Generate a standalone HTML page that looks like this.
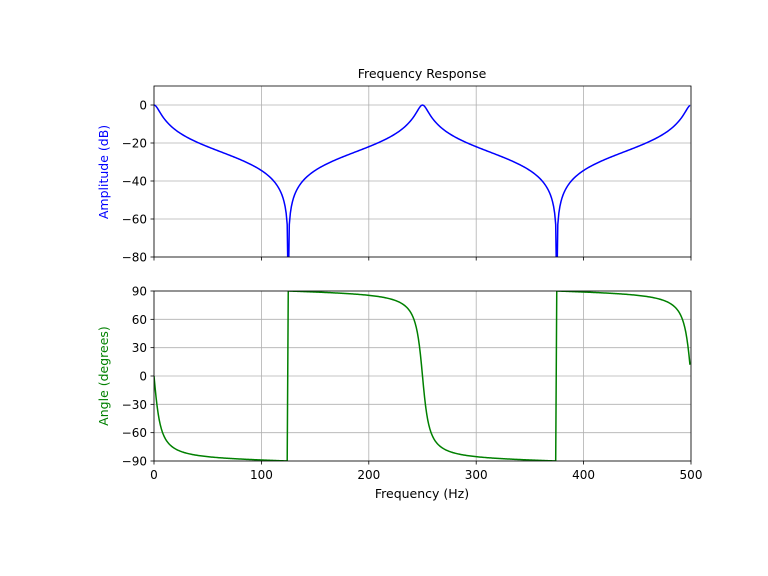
<!DOCTYPE html>
<html><head><meta charset="utf-8"><style>
body{margin:0;background:#fff}
svg{display:block;font-family:"DejaVu Sans","Liberation Sans",sans-serif}
</style></head><body>
<svg id="s" width="768" height="576" xmlns="http://www.w3.org/2000/svg">
<defs>
<clipPath id="c1"><rect x="154" y="86" width="537" height="171"/></clipPath>
<clipPath id="c2"><rect x="154" y="291" width="537" height="170"/></clipPath>
</defs>
<g id="grid" stroke="#b0b0b0" stroke-width="0.8"></g>
<path id="p1" fill="none" stroke="#0000ff" stroke-width="1.5" clip-path="url(#c1)"/>
<path id="p2" fill="none" stroke="#008000" stroke-width="1.5" clip-path="url(#c2)"/>
<rect x="154" y="86" width="537" height="171" fill="none" stroke="#000" stroke-width="0.8"/>
<rect x="154" y="291" width="537" height="170" fill="none" stroke="#000" stroke-width="0.8"/>
<g id="ticks" stroke="#000" stroke-width="0.8"></g>
<g id="lbl" font-size="12" fill="#000"></g>
<text x="422" y="78" font-size="12.5" text-anchor="middle">Frequency Response</text>
<text x="422" y="498" font-size="12.5" text-anchor="middle">Frequency (Hz)</text>
<text transform="translate(108,172) rotate(-90)" font-size="12.5" text-anchor="middle" fill="#0000ff">Amplitude (dB)</text>
<text transform="translate(108,376) rotate(-90)" font-size="12.5" text-anchor="middle" fill="#008000">Angle (degrees)</text>
</svg>
<script>
var X=function(f){return 154+f*537/500};
var Y1=function(d){return 105-d*1.9};
var Y2=function(a){return 376-a*170/180};
var g=0.055,a=1-2*g,d1="",d2="";
for(var i=0;i<512;i++){var f=i*500/512;
 var t=2*Math.PI*f/250,c=Math.cos(t),s=Math.sin(t);
 var nr=g*(1+c),ni=-g*s,dr=1-a*c,di=a*s;
 var den=dr*dr+di*di,hr=(nr*dr+ni*di)/den,hi=(ni*dr-nr*di)/den;
 var m=Math.sqrt(hr*hr+hi*hi),db=20*Math.log10(Math.max(m,1e-9));
 if(db<-100)db=-100;
 var ph=Math.atan2(hi,hr)*180/Math.PI;
 if(Math.abs(f-125)<0.01||Math.abs(f-375)<0.01){ph=90;}
 d1+=(i?"L":"M")+X(f).toFixed(2)+","+Y1(db).toFixed(2);
 d2+=(i?"L":"M")+X(f).toFixed(2)+","+Y2(ph).toFixed(2);
}
document.getElementById("p1").setAttribute("d",d1);
document.getElementById("p2").setAttribute("d",d2);
var G="",T="",L="";
for(var f=0;f<=500;f+=100){var x=X(f);
 G+='<line x1="'+x+'" x2="'+x+'" y1="86" y2="257"/><line x1="'+x+'" x2="'+x+'" y1="291" y2="461"/>';
 T+='<line x1="'+x+'" x2="'+x+'" y1="257" y2="260.5"/><line x1="'+x+'" x2="'+x+'" y1="461" y2="464.5"/>';
 L+='<text x="'+x+'" y="479" text-anchor="middle">'+f+'</text>';}
for(var d=0;d>=-80;d-=20){var y=Y1(d);
 G+='<line x1="154" x2="691" y1="'+y+'" y2="'+y+'"/>';
 T+='<line x1="150.5" x2="154" y1="'+y+'" y2="'+y+'"/>';
 L+='<text x="147" y="'+(y+4.5)+'" text-anchor="end">'+(d<0?'\u2212'+(-d):d)+'</text>';}
for(var p=90;p>=-90;p-=30){var y=Y2(p);
 G+='<line x1="154" x2="691" y1="'+y+'" y2="'+y+'"/>';
 T+='<line x1="150.5" x2="154" y1="'+y+'" y2="'+y+'"/>';
 L+='<text x="147" y="'+(y+4.5)+'" text-anchor="end">'+(p<0?'\u2212'+(-p):p)+'</text>';}
document.getElementById("grid").innerHTML=G;
document.getElementById("ticks").innerHTML=T;
document.getElementById("lbl").innerHTML=L;
</script>
</body></html>
